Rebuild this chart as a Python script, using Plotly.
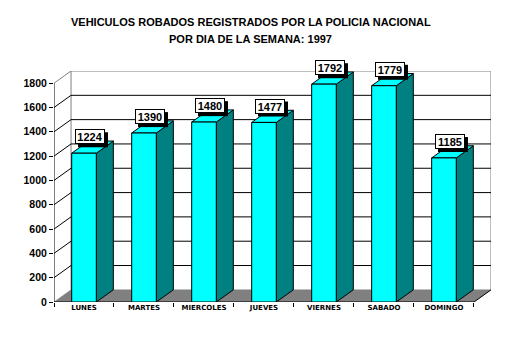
import plotly.graph_objects as go

# Weekly stolen-vehicle counts (1997)
dias = ["LUNES", "MARTES", "MIERCOLES", "JUEVES", "VIERNES", "SABADO", "DOMINGO"]
robos = [1224, 1390, 1480, 1477, 1792, 1779, 1185]
y_ticks = [0, 200, 400, 600, 800, 1000, 1200, 1400, 1600, 1800]

# pseudo-3D geometry (in axis units)
DX = 0.284     # depth shift along categories
DZ = 100       # depth shift along values
HALF = 0.205   # half bar width
YMAX = y_ticks[-1]
X0, X1 = -0.5, len(dias) - 0.5
XR = (X0, X1 + DX)
YR = (0, YMAX + DZ)

CYAN = "#00FFFF"
TEAL = "#008080"
GRAY = "#808080"

fig = go.Figure()


def poly(xs, ys, fill=None, color="black", width=1):
    fig.add_trace(go.Scatter(
        x=xs, y=ys, mode="lines",
        fill="toself" if fill else None,
        fillcolor=fill,
        line=dict(color=color, width=width),
        hoverinfo="skip", showlegend=False,
    ))


def to_paper(x, y):
    return ((x - XR[0]) / (XR[1] - XR[0]), (y - YR[0]) / (YR[1] - YR[0]))


# back wall outline (left, top, right)
poly([X0 + DX, X0 + DX, X1 + DX, X1 + DX], [DZ, YMAX + DZ, YMAX + DZ, DZ], color=GRAY)

# back-wall gridlines and left-wall diagonals
for v in y_ticks[1:]:
    c = GRAY if v == YMAX else "black"
    if v != YMAX:
        poly([X0 + DX, X1 + DX], [v + DZ, v + DZ], color="black")
    poly([X0, X0 + DX], [v, v + DZ], color=c)

# floor
poly([X0, X1, X1 + DX, X0 + DX, X0], [0, 0, DZ, DZ, 0], fill=GRAY, color=GRAY, width=0.5)
poly([X1, X1 + DX], [0, DZ], color="black")
poly([X0, X1], [0, 0], color="black")
# front value axis
poly([X0, X0], [0, YMAX], color="black")

# bars: side, top, front
for i, v in enumerate(robos):
    l, r = i - HALF, i + HALF
    poly([r, r + DX, r + DX, r, r], [0, DZ, v + DZ, v, 0], fill=TEAL)
    poly([l, r, r + DX, l + DX, l], [v, v, v + DZ, v + DZ, v], fill=CYAN)
    poly([l, r, r, l, l], [0, 0, v, v, 0], fill=CYAN)

# value labels: white box with a black drop shadow
for i, v in enumerate(robos):
    px, py = to_paper(i + 0.1, v + 135)
    fig.add_shape(
        type="rect", xref="paper", yref="paper",
        xsizemode="pixel", ysizemode="pixel",
        xanchor=px, yanchor=py,
        x0=-12, x1=18, y0=-10.5, y1=4.5,
        fillcolor="black", line=dict(width=0), layer="above",
    )
    fig.add_annotation(
        x=px, y=py, xref="paper", yref="paper",
        xanchor="center", yanchor="middle",
        text=f"<b>{v}</b>", showarrow=False,
        font=dict(family="Liberation Sans, Arial", size=11, color="black"),
        bgcolor="white", bordercolor="black", borderwidth=1, borderpad=0,
        width=28, height=13,
    )

# title
for txt, yy in (("VEHICULOS ROBADOS REGISTRADOS POR LA POLICIA NACIONAL", 1.21),
                ("POR DIA DE LA SEMANA: 1997", 1.1385)):
    fig.add_annotation(
        x=0.4508, y=yy, xref="paper", yref="paper",
        text=f"<b>{txt}</b>", showarrow=False,
        xanchor="center", yanchor="middle",
        font=dict(family="Liberation Sans, Arial", size=11, color="black"),
    )

fig.update_layout(
    width=508, height=341,
    margin=dict(l=54, r=17, t=71, b=39),
    paper_bgcolor="white", plot_bgcolor="white",
    xaxis=dict(
        range=list(XR), showgrid=False, zeroline=False, showline=False,
        tickmode="array", tickvals=list(range(len(dias))), ticktext=dias,
        ticks="", tickfont=dict(family="DejaVu Sans", size=7, color="black", weight="bold"),
        minor=dict(tickmode="array",
                   tickvals=[k - 0.5 for k in range(len(dias) + 1)],
                   ticks="outside", ticklen=4, tickcolor="black", tickwidth=1,
                   showgrid=False),
        fixedrange=True,
    ),
    yaxis=dict(
        range=list(YR), showgrid=False, zeroline=False, showline=False,
        tickmode="array", tickvals=y_ticks,
        ticks="outside", ticklen=4, tickcolor="black", tickwidth=1,
        tickfont=dict(family="Liberation Sans, Arial", size=10.5, color="black", weight="bold"),
        fixedrange=True,
    ),
)

fig.write_html("out.html")
